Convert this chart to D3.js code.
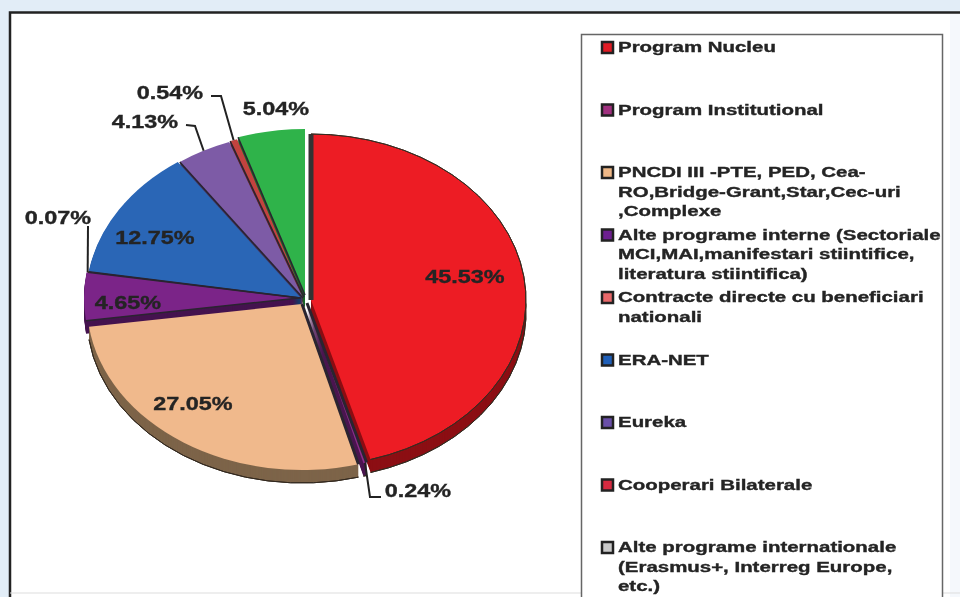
<!DOCTYPE html>
<html>
<head>
<meta charset="utf-8">
<script src="https://cdn.jsdelivr.net/npm/d3@7"></script>
<style>
  html, body { margin: 0; padding: 0; background: #e2edf7; }
  svg { display: block; filter: blur(0.45px); }
  text { font-family: "Liberation Sans", Arial, sans-serif; font-weight: bold; fill: #242424; stroke: #242424; stroke-width: 0.35px; }
</style>
</head>
<body>
<div id="chart"></div>
<script>
// Values
const sliceNames = ["Program Nucleu", "Program Institutional", "PNCDI III", "Alte programe interne",
  "Contracte directe", "ERA-NET", "Eureka", "Cooperari Bilaterale", "Alte programe internationale"];
const sliceValues = [45.53, 0.24, 27.05, 4.65, 0.07, 12.75, 4.13, 0.54, 5.04];
const sliceColors = ["#ed1c24", "#8e2c8c", "#f0b98c", "#7b2488", "#e8703a", "#2a66b6", "#7d5ba6", "#c2433f", "#2fb34a"];
const wallColors = ["#8c0f14", "#4b1650", "#7d6449", "#45134f", "#7a3a1e", "#163a68", "#463360", "#6e2522", "#1a6a2b"];

const legendLines = [
  ["Program Nucleu"],
  ["Program Institutional"],
  ["PNCDI III -PTE, PED, Cea-", "RO,Bridge-Grant,Star,Cec-uri", ",Complexe"],
  ["Alte programe interne (Sectoriale", "MCI,MAI,manifestari stiintifice,", "literatura stiintifica)"],
  ["Contracte directe cu beneficiari", "nationali"],
  ["ERA-NET"],
  ["Eureka"],
  ["Cooperari Bilaterale"],
  ["Alte programe internationale", "(Erasmus+,  Interreg Europe,", "etc.)"]
];
const legendColors = ["#e01b24", "#a0307f", "#efb887", "#6d1f8f", "#e8686a", "#1f5fb8", "#6a4fa8", "#d62a40", "#c9c9c9"];

// Layout: how far each slice is pulled out, and where the labels sit
const sliceShift = [[8, 2], [4, 5], [-1, 6], [-4, 0], [-3, 0], [-2, 0], [0, 0], [1, -1], [2, -3]];
const labelCenters = [[465, 277], [418, 491], [193, 404], [128, 303], [58, 218], [155, 238], [145, 122], [170, 93], [276, 109]];
// leader bends for the small slices: elbow, then end next to the label
const leaders = { 1: [[370, 497], [381, 497]], 4: [[88, 226]], 6: [[195, 126], [186, 125]], 7: [[221, 96], [211, 96]] };

const width = 960, height = 597;
const cx = 303, cy = 298, rx = 215, ry = 166, depth = 13;

const svg = d3.select("#chart").append("svg")
    .attr("width", width)
    .attr("height", height);

// White panel with its dark frame
svg.append("rect")
    .attr("x", 10).attr("y", 13)
    .attr("width", 950).attr("height", 584)
    .attr("fill", "#fff");
svg.append("rect")
    .attr("x", 950).attr("y", 13)
    .attr("width", 10).attr("height", 584)
    .attr("fill", "#f5f8fc");
svg.append("path")
    .attr("d", "M10,597V12.5H960")
    .attr("fill", "none").attr("stroke", "#222").attr("stroke-width", 2.5);
svg.append("path")
    .attr("d", "M10,593H960")
    .attr("fill", "none").attr("stroke", "#ddd").attr("stroke-width", 1);

// Pie
const pie = d3.pie().sort(null).value(d => d)(sliceValues);
const arc = d3.arc().innerRadius(0).outerRadius(rx);
const ky = ry / rx;

const pieG = svg.append("g");
const place = (i, down) => `translate(${cx + sliceShift[i][0]},${cy + sliceShift[i][1] + down}) scale(1,${ky})`;

// Side wall of the pie, stacked copies going down
d3.range(depth, 0, -1).forEach(down => {
  pieG.append("g").selectAll("path")
    .data(pie)
    .enter().append("path")
      .attr("d", arc)
      .attr("transform", (d, i) => place(i, down))
      .attr("fill", (d, i) => wallColors[i]);
});
// Thin outline along the bottom of the wall
pieG.append("g").selectAll("path")
  .data(pie.filter(d => d.index < 3))
  .enter().append("path")
    .attr("d", d => d3.arc().innerRadius(rx).outerRadius(rx)(d))
    .attr("transform", d => place(d.index, depth))
    .attr("fill", "none").attr("stroke", "#33291f").attr("stroke-width", 1)
    .attr("vector-effect", "non-scaling-stroke");

// Top faces
pieG.append("g").selectAll("path")
  .data(pie)
  .enter().append("path")
    .attr("d", arc)
    .attr("transform", d => place(d.index, 0))
    .attr("fill", d => sliceColors[d.index]);

// Dark edge on the start side of each slice
const edge = d3.lineRadial().angle(d => d[0]).radius(d => d[1]);
pieG.append("g").selectAll("path")
  .data(pie)
  .enter().append("path")
    .attr("d", d => edge([[d.startAngle, 0], [d.startAngle, rx]]))
    .attr("transform", d => place(d.index, 0))
    .attr("fill", "none").attr("stroke", "#2a2430")
    .attr("stroke-width", d => d.index < 3 ? 3 : 1.5)
    .attr("vector-effect", "non-scaling-stroke");
// Dark edge on the open side of the pulled out red slice
pieG.append("path")
    .attr("d", edge([[0, 0], [0, rx]]))
    .attr("transform", place(0, 0))
    .attr("fill", "none").attr("stroke", "#333").attr("stroke-width", 5)
    .attr("vector-effect", "non-scaling-stroke");
pieG.append("path")
    .attr("d", d3.arc().innerRadius(rx).outerRadius(rx)(pie[0]))
    .attr("transform", place(0, 0))
    .attr("fill", "none").attr("stroke", "#3a2a20").attr("stroke-width", 1)
    .attr("vector-effect", "non-scaling-stroke");

// Leaders from the edge of the small slices to their labels
const outerPoint = d => {
  const a = (d.startAngle + d.endAngle) / 2;
  return [cx + sliceShift[d.index][0] + rx * Math.sin(a), cy + sliceShift[d.index][1] - ry * Math.cos(a)];
};
svg.append("g").selectAll("path")
  .data(pie.filter(d => leaders[d.index]))
  .enter().append("path")
    .attr("d", d => d3.line()([outerPoint(d), ...leaders[d.index]]))
    .attr("fill", "none").attr("stroke", "#222").attr("stroke-width", 2);

// Percent labels, Arial stretched wide like the original
const wideText = (sel, sx) => sel.attr("transform", function() {
  const t = d3.select(this);
  return `translate(${t.attr("data-x")},${t.attr("data-y")}) scale(${sx},1)`;
});
svg.append("g").selectAll("text")
  .data(sliceValues)
  .enter().append("text")
    .attr("data-x", (d, i) => labelCenters[i][0])
    .attr("data-y", (d, i) => labelCenters[i][1])
    .attr("dy", "0.36em")
    .attr("text-anchor", "middle")
    .style("font-size", "18px")
    .text(d => d.toFixed(2) + "%")
    .call(wideText, 1.3);

// Legend, box runs off the bottom of the picture
const legendY = d3.scalePoint().domain(d3.range(legendLines.length)).range([47, 547]);
svg.append("rect")
    .attr("x", 581.5).attr("y", 34.5)
    .attr("width", 361).attr("height", 580)
    .attr("fill", "#fff").attr("stroke", "#666").attr("stroke-width", 1.5);

const row = svg.append("g").selectAll("g")
  .data(legendLines)
  .enter().append("g")
    .attr("transform", (d, i) => `translate(0,${legendY(i)})`);

row.append("rect")
    .attr("x", 602).attr("y", -5)
    .attr("width", 11).attr("height", 11)
    .attr("fill", (d, i) => legendColors[i])
    .attr("stroke", "#222").attr("stroke-width", 2.5);

row.selectAll("text")
  .data(d => d)
  .enter().append("text")
    .attr("data-x", 618)
    .attr("data-y", (d, i) => i * 19.4)
    .attr("dy", "0.36em")
    .style("font-size", "14.5px")
    .text(d => d)
    .call(wideText, 1.41);
</script>
</body>
</html>
